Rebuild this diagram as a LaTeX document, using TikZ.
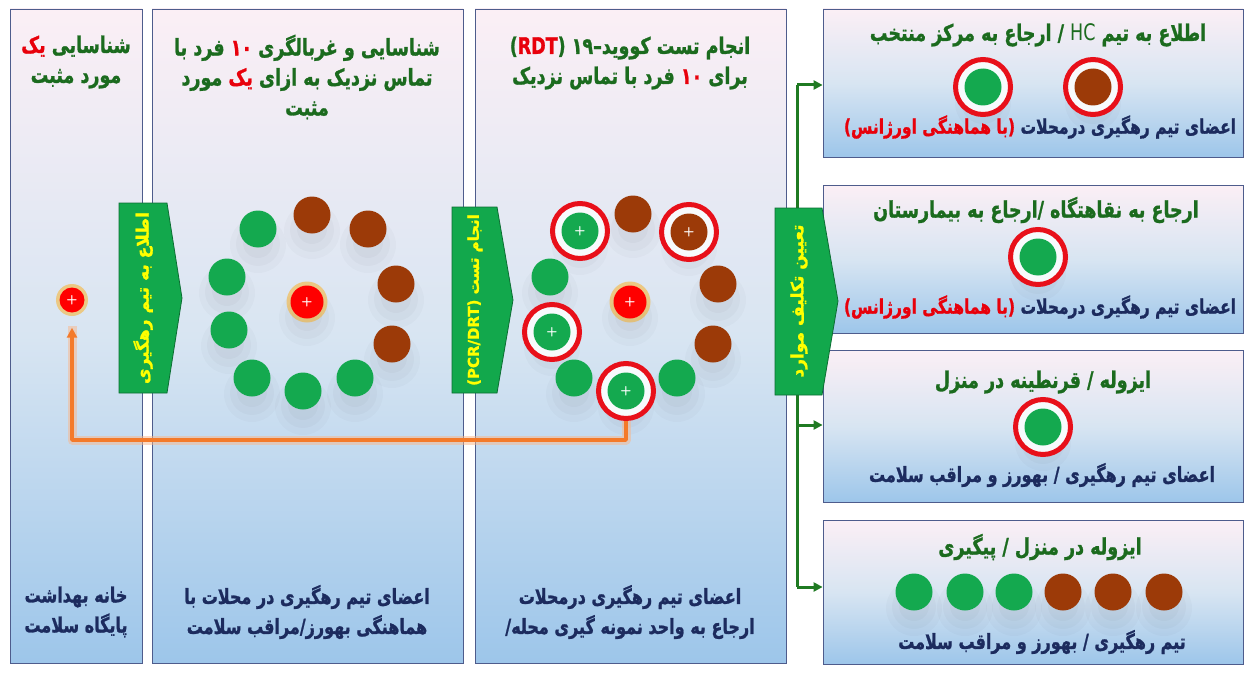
\documentclass[tikz,border=0pt]{standalone}
\usepackage{fontspec}
\newfontfamily\fa[Script=Arabic, BoldFeatures={FakeBold=1.3}]{DejaVu Sans}
\newfontfamily\latf[BoldFeatures={FakeBold=1.3}]{DejaVu Sans}
\TeXXeTstate=1
\usetikzlibrary{arrows.meta}
\definecolor{txgreen}{HTML}{1B6B1E}
\definecolor{txnavy}{HTML}{1C2B5E}
\definecolor{txred}{HTML}{E8000B}
\definecolor{dotgreen}{HTML}{14A94F}
\definecolor{dotbrown}{HTML}{9C3A08}
\definecolor{dotred}{HTML}{FF0000}
\definecolor{chevfill}{HTML}{12A84C}
\definecolor{chevedge}{HTML}{0C6E33}
\definecolor{chevtext}{HTML}{FFFF00}
\definecolor{pantop}{HTML}{FBEFF5}
\definecolor{panmid}{HTML}{D8E5F2}
\definecolor{panbot}{HTML}{9DC6EA}
\definecolor{panedge}{HTML}{4E5C8C}
\definecolor{linkgreen}{HTML}{1F7A22}
\definecolor{linkorange}{HTML}{F47A2A}
\definecolor{ringred}{HTML}{E8101A}
% a line laid out left to right by hand; \rseg holds right-to-left runs without colour changes
\newcommand\visline[1]{\scalebox{1}[1.3]{#1}}
\newcommand\rseg[1]{\beginR#1\endR}
\newcommand\rtlline[1]{\scalebox{1}[1.3]{\beginR#1\endR}}
\newcommand\rtlplain[1]{\beginR#1\endR}
\newcommand\redw[1]{{\color{txred}#1}}
\begin{document}
\begin{tikzpicture}[x=1pt,y=-1pt,
  panel/.style={draw=panedge, line width=0.8pt, top color=pantop, bottom color=panbot, middle color=panmid, inner sep=0pt},
  dot/.style={circle, minimum size=37pt, inner sep=0pt, text=white, font=\sffamily\bfseries\fontsize{13}{13}\selectfont},
  gdot/.style={dot, fill=dotgreen},
  bdot/.style={dot, fill=dotbrown},
  posdot/.style={dot, fill=dotred, minimum size=33pt},
  ringc/.style={circle, draw=ringred, line width=5pt, minimum size=55pt, inner sep=0pt, fill=white!80!panmid},
  glowc/.style={circle, fill=orange!70!yellow, opacity=0.45, inner sep=0pt},
  ttl/.style={font=\fa\bfseries\fontsize{17.5}{30}\selectfont, text=txgreen, align=center},
  btm/.style={font=\fa\bfseries\fontsize{16}{30}\selectfont, text=txnavy, align=center},
  chev/.style={fill=chevfill, draw=chevedge, line width=0.8pt},
  chevtx/.style={rotate=90, font=\fa\bfseries\fontsize{17}{19}\selectfont, text=chevtext},
  glink/.style={draw=linkgreen, line width=3pt},
  gtip/.style={-{Triangle[length=9pt,width=9pt]}},
]
\useasboundingbox (0,0) rectangle (1246,674);
\fill[white] (0,0) rectangle (1246,674);

% panels
\node[panel, minimum width=132pt, minimum height=654pt] (pan1) at (76,336) {};
\node[panel, minimum width=311pt, minimum height=654pt] (pan2) at (307.5,336) {};
\node[panel, minimum width=311pt, minimum height=654pt] (pan3) at (630.5,336) {};

% right boxes
\node[panel, minimum width=420pt, minimum height=148pt] (box1) at (1033,83) {};
\node[panel, minimum width=420pt, minimum height=148pt] (box2) at (1033,259) {};
\node[panel, minimum width=420pt, minimum height=152pt] (box3) at (1033,426) {};
\node[panel, minimum width=420pt, minimum height=144pt] (box4) at (1033,592) {};

% soft shadows under dots
\foreach \x/\y in {258/229,312/215,368/229,396/284,392/344,355/378,303/391,252/378,229/330,227/277,307/302,
  580/231,633/214,689/232,718/284,713/344,677/378,626/391,574/378,552/332,550/277,630/302,
  983/87,1093/87,1038/257,1043/427,914/592,965/592,1014/592,1063/592,1113/592,1164/592}
  {\fill[black, opacity=0.02] (\x,\y+16) circle[radius=28pt];
   \fill[black, opacity=0.025] (\x,\y+15) circle[radius=22pt];
   \fill[black, opacity=0.025] (\x,\y+14) circle[radius=15pt];}

% panel 1 positive case
\node[glowc, minimum size=32pt] (g0) at (72,300) {};
\node[posdot, minimum size=25pt] (p1pos) at (72,300) {+};

% panel 2 ring of contacts
\node[glowc, minimum size=41pt] (g2) at (307,302) {};
\node[posdot] (p2pos) at (307,302) {+};
\foreach \x/\y/\s [count=\i] in {258/229/gdot,312/215/bdot,368/229/bdot,396/284/bdot,392/344/bdot,
  355/378/gdot,303/391/gdot,252/378/gdot,229/330/gdot,227/277/gdot}
  \node[\s] (p2d\i) at (\x,\y) {};

% panel 3 tested contacts
\node[ringc] (p3ring1) at (580,231) {};
\node[ringc] (p3ring3) at (689,232) {};
\node[ringc] (p3ring7) at (626,391) {};
\node[ringc] (p3ring9) at (552,332) {};
\node[glowc, minimum size=41pt] (g3) at (630,302) {};
\node[posdot] (p3pos) at (630,302) {+};
\node[gdot] (p3d1) at (580,231) {+};
\node[bdot] (p3d2) at (633,214) {};
\node[bdot] (p3d3) at (689,232) {+};
\node[bdot] (p3d4) at (718,284) {};
\node[bdot] (p3d5) at (713,344) {};
\node[gdot] (p3d6) at (677,378) {};
\node[gdot] (p3d7) at (626,391) {+};
\node[gdot] (p3d8) at (574,378) {};
\node[gdot] (p3d9) at (552,332) {+};
\node[gdot] (p3d10) at (550,277) {};

% orange feedback connector
\coordinate (obase) at (350,440);
\draw[linkorange!55, line width=9pt, opacity=0.5, line join=round] (p3ring7.south) |- (obase) -| ([yshift=-13pt]p1pos.south);
\draw[linkorange, line width=3.5pt, line join=round, -{Triangle[length=10pt,width=10pt]}] (p3ring7.south) |- (obase) -| ([yshift=-15pt]p1pos.south);

% green distribution connector
\coordinate (gtop) at (797,85);
\coordinate (gmid) at (797,425);
\coordinate (gbot) at (797,587);
\draw[glink] (gtop) -- (gbot);
\draw[glink, gtip] (gtop) -- (box1.west |- gtop);
\draw[glink, gtip] (gmid) -- (box3.west |- gmid);
\draw[glink, gtip] (gbot) -- (box4.west |- gbot);

% chevrons
\draw[chev] (119,203) -- (167,203) -- (182,298) -- (167,393) -- (119,393) -- cycle;
\node[chevtx] (c1) at (143,298) {\rtlplain{اطلاع به تیم رهگیری}};
\draw[chev] (452,207) -- (497,207) -- (513,300) -- (497,393) -- (452,393) -- cycle;
\node[chevtx, font=\fa\bfseries\fontsize{15}{17}\selectfont] (c2) at (475,300) {\rtlplain{انجام تست \beginL{\latf\bfseries(PCR/DRT)}\endL}};
\draw[chev] (775,208) -- (822,208) -- (838,301) -- (822,395) -- (775,395) -- cycle;
\node[chevtx] (c3) at (799,301) {\rtlplain{تعیین تکلیف موارد}};

% panel texts
\node[ttl] (t1) at (76,62) {\visline{\redw{یک} شناسایی}\\\rtlline{مورد مثبت}};
\node[ttl] (t2) at (307,77) {\visline{\rseg{فرد با} \redw{۱۰} \rseg{شناسایی و غربالگری}}\\
  \visline{مورد \redw{یک} \rseg{تماس نزدیک به ازای}}\\\rtlline{مثبت}};
\node[ttl] (t3) at (630,63) {\visline{{\latf\bfseries(\redw{RDT})} \rseg{انجام تست کووید\kern0pt–\kern0pt۱۹}}\\
  \visline{\rseg{فرد با تماس نزدیک} \redw{۱۰} برای}};
\node[btm] (b1) at (76,612) {\rtlline{خانه بهداشت}\\\rtlline{پایگاه سلامت}};
\node[btm] (b2) at (307,612) {\rtlline{اعضای تیم رهگیری در محلات با}\\\rtlline{هماهنگی بهورز/مراقب سلامت}};
\node[btm] (b3) at (630,612) {\rtlline{اعضای تیم رهگیری درمحلات}\\\rtlline{ارجاع به واحد نمونه گیری محله\kern0pt/}};

% box 1
\node[ttl] (r1t) at (1038,35) {\rtlline{اطلاع به تیم \beginL{\latf\mdseries HC}\endL{} / ارجاع به مرکز منتخب}};
\node[ringc] (r1a) at (983,87) {};
\node[ringc] (r1b) at (1093,87) {};
\node[gdot] (r1g) at (983,87) {};
\node[bdot] (r1br) at (1093,87) {};
\node[btm, font=\fa\bfseries\fontsize{15.5}{30}\selectfont] (r1b2) at (1040,127) {\visline{\redw{\rseg{(با هماهنگی اورژانس)}} \rseg{اعضای تیم رهگیری درمحلات}}};

% box 2
\node[ttl] (r2t) at (1036,210) {\rtlline{ارجاع به نقاهتگاه /\kern0pt ارجاع به بیمارستان}};
\node[ringc] (r2a) at (1038,257) {};
\node[gdot] (r2g) at (1038,257) {};
\node[btm, font=\fa\bfseries\fontsize{15.5}{30}\selectfont] (r2b) at (1040,307) {\visline{\redw{\rseg{(با هماهنگی اورژانس)}} \rseg{اعضای تیم رهگیری درمحلات}}};

% box 3
\node[ttl] (r3t) at (1043,382) {\rtlline{ایزوله / قرنطینه در منزل}};
\node[ringc] (r3a) at (1043,427) {};
\node[gdot] (r3g) at (1043,427) {};
\node[btm] (r3b) at (1042,475) {\rtlline{اعضای تیم رهگیری / بهورز و مراقب سلامت}};

% box 4
\node[ttl] (r4t) at (1040,547) {\rtlline{ایزوله در منزل / پیگیری}};
\node[gdot] (r4d1) at (914,592) {};
\node[gdot] (r4d2) at (965,592) {};
\node[gdot] (r4d3) at (1014,592) {};
\node[bdot] (r4d4) at (1063,592) {};
\node[bdot] (r4d5) at (1113,592) {};
\node[bdot] (r4d6) at (1164,592) {};
\node[btm] (r4b) at (1042,642) {\rtlline{تیم رهگیری / بهورز و مراقب سلامت}};
\end{tikzpicture}
\end{document}
